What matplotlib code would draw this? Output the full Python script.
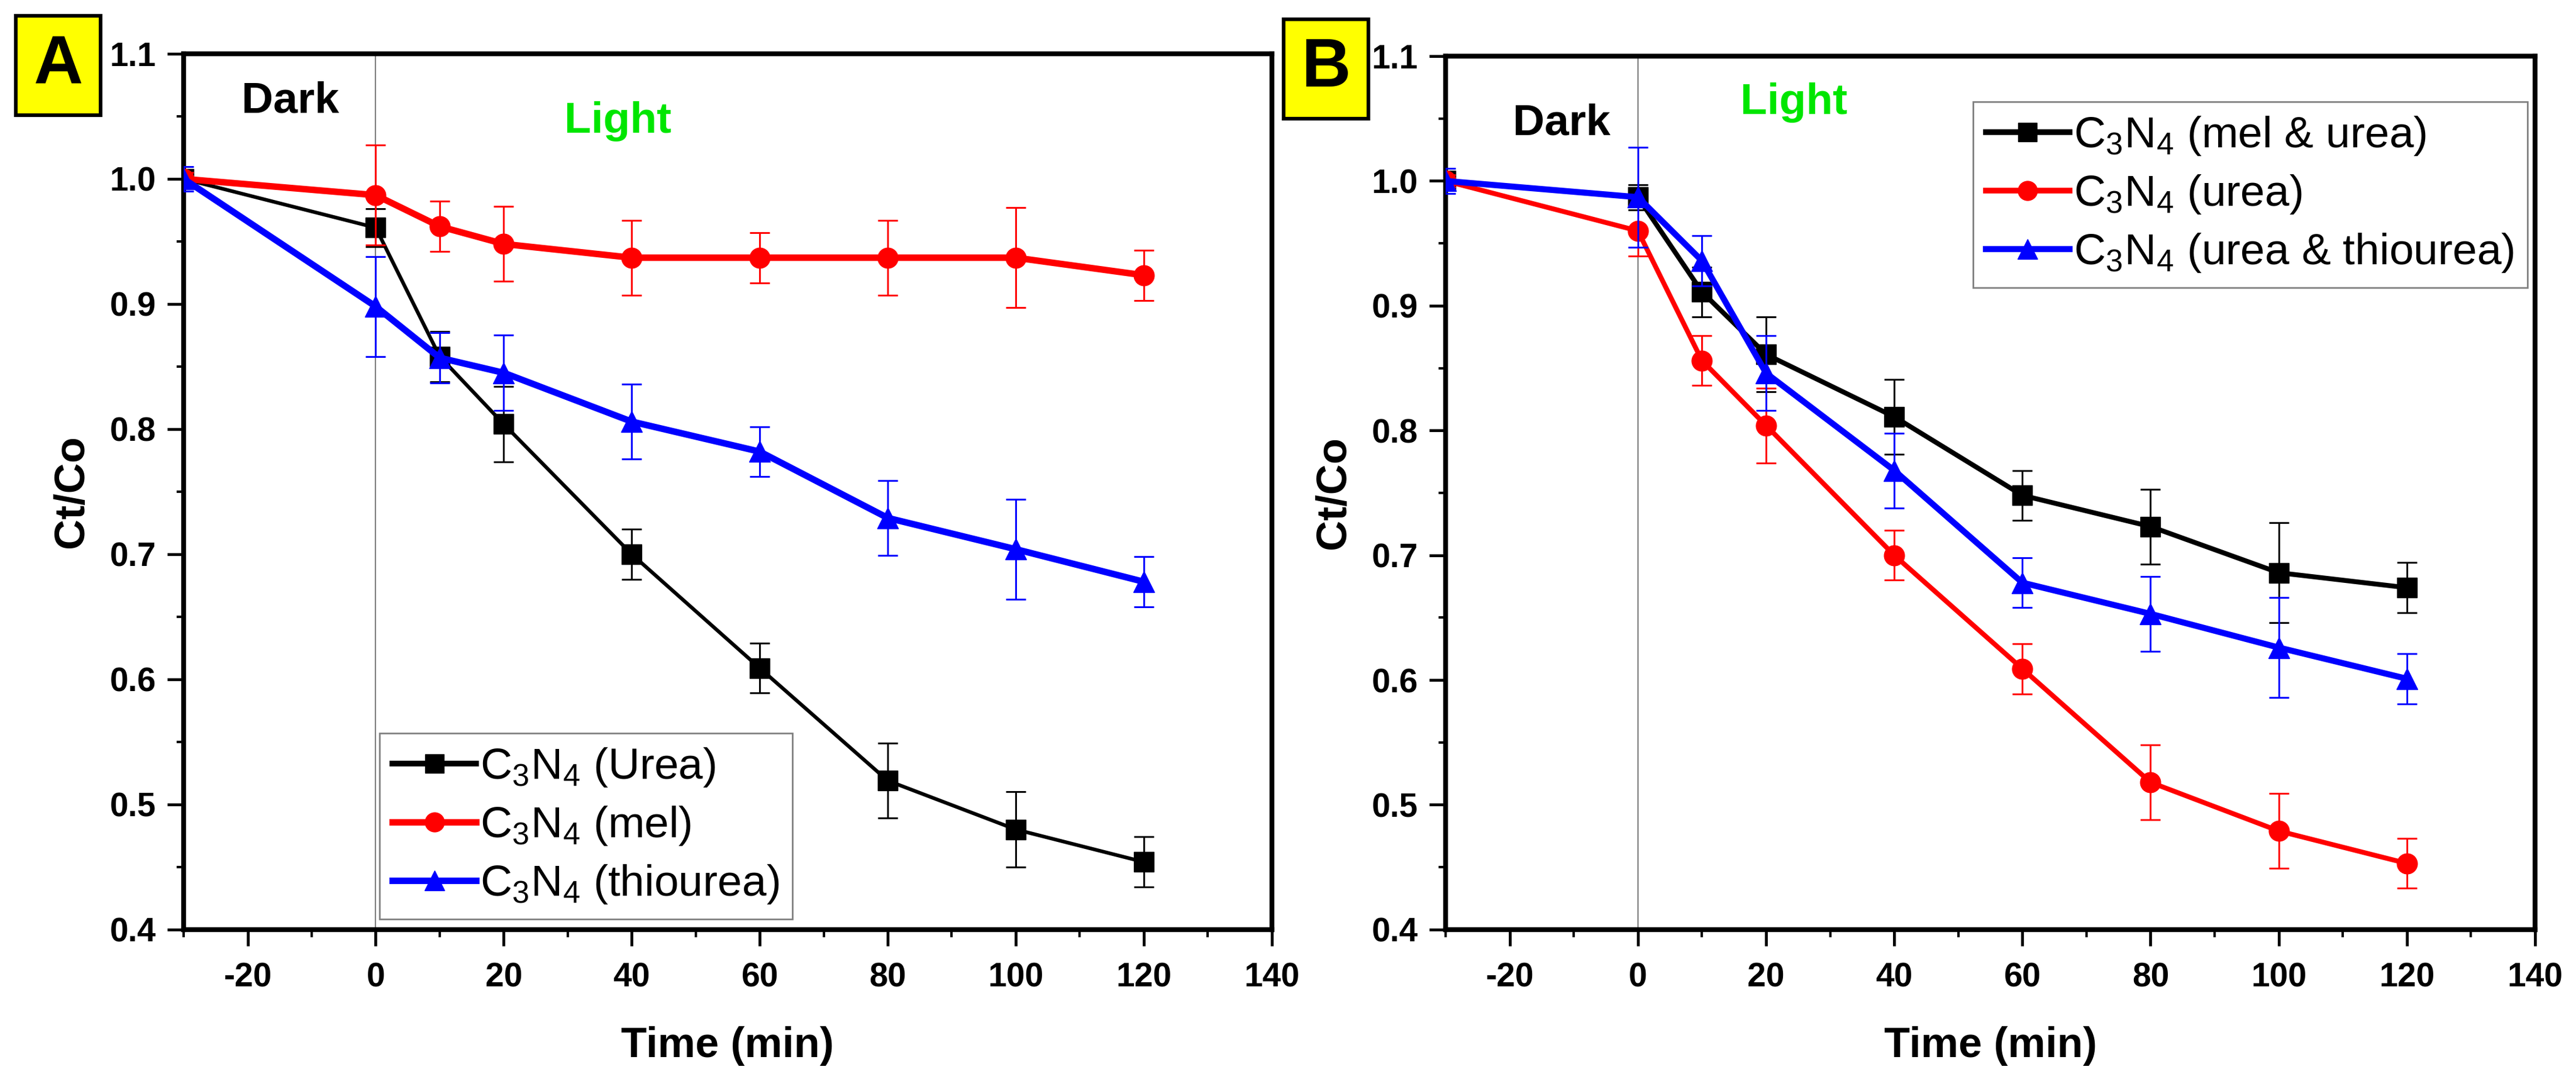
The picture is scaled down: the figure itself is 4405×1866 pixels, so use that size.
import matplotlib
matplotlib.use("Agg")
import matplotlib.pyplot as plt
from matplotlib.patches import Rectangle
from matplotlib.lines import Line2D
from matplotlib.ticker import MultipleLocator

# ---------------- data ----------------
time = [-30, 0, 10, 20, 40, 60, 80, 100, 120]

# Panel A
urea_A = [1.0, 0.961, 0.858, 0.804, 0.700, 0.609, 0.519, 0.480, 0.454]
urea_A_err = [0.005, 0.015, 0.02, 0.03, 0.02, 0.02, 0.03, 0.03, 0.02]
mel_A = [1.0, 0.987, 0.962, 0.948, 0.937, 0.937, 0.937, 0.937, 0.923]
mel_A_err = [0.005, 0.04, 0.02, 0.03, 0.03, 0.02, 0.03, 0.04, 0.02]
thio_A = [1.0, 0.898, 0.857, 0.845, 0.806, 0.782, 0.729, 0.704, 0.678]
thio_A_err = [0.01, 0.04, 0.02, 0.03, 0.03, 0.02, 0.03, 0.04, 0.02]
labels_A = [r"C$_\mathregular{3}$N$_\mathregular{4}$ (Urea)",
            r"C$_\mathregular{3}$N$_\mathregular{4}$ (mel)",
            r"C$_\mathregular{3}$N$_\mathregular{4}$ (thiourea)"]

# Panel B
melurea_B = [1.0, 0.987, 0.911, 0.861, 0.811, 0.748, 0.723, 0.686, 0.674]
melurea_B_err = [0.005, 0.01, 0.02, 0.03, 0.03, 0.02, 0.03, 0.04, 0.02]
urea_B = [1.0, 0.960, 0.856, 0.804, 0.700, 0.609, 0.518, 0.479, 0.453]
urea_B_err = [0.005, 0.02, 0.02, 0.03, 0.02, 0.02, 0.03, 0.03, 0.02]
ureathio_B = [1.0, 0.987, 0.936, 0.846, 0.768, 0.678, 0.653, 0.626, 0.601]
ureathio_B_err = [0.01, 0.04, 0.02, 0.03, 0.03, 0.02, 0.03, 0.04, 0.02]
labels_B = [r"C$_\mathregular{3}$N$_\mathregular{4}$ (mel & urea)",
            r"C$_\mathregular{3}$N$_\mathregular{4}$ (urea)",
            r"C$_\mathregular{3}$N$_\mathregular{4}$ (urea & thiourea)"]

xticks = [-20, 0, 20, 40, 60, 80, 100, 120, 140]
yticks = [0.4, 0.5, 0.6, 0.7, 0.8, 0.9, 1.0, 1.1]

# ---------------- style ----------------
plt.rcParams["font.family"] = ["Liberation Sans", "DejaVu Sans"]
plt.rcParams["mathtext.fontset"] = "custom"
plt.rcParams["mathtext.rm"] = "Liberation Sans"
plt.rcParams["axes.unicode_minus"] = False

fig = plt.figure(figsize=(44.05, 18.66), dpi=100)
axA = fig.add_axes([0.0713, 0.148, 0.4224, 0.8027])
axB = fig.add_axes([0.5612, 0.148, 0.4229, 0.8005])

GREEN = "#00e600"


def style_axes(ax):
    ax.set_xlim(-30, 140)
    ax.set_ylim(0.4, 1.1)
    ax.set_xticks(xticks)
    ax.set_xticklabels([str(v) for v in xticks])
    ax.set_yticks(yticks)
    ax.set_yticklabels([f"{v:.1f}" for v in yticks])
    ax.xaxis.set_minor_locator(MultipleLocator(10))
    ax.yaxis.set_minor_locator(MultipleLocator(0.05))
    for s in ax.spines.values():
        s.set_linewidth(6)
    ax.tick_params(which="major", direction="out", length=20, width=3.5,
                   labelsize=41, pad=14)
    ax.tick_params(which="minor", direction="out", length=9, width=3)
    ax.tick_params(axis="x", which="major", pad=20)
    for lab in ax.get_xticklabels() + ax.get_yticklabels():
        lab.set_fontweight("bold")
    ax.axvline(0, color="#7f7f7f", lw=1.6, zorder=1)
    ax.set_xlabel("Time (min)", fontsize=52, fontweight="bold", labelpad=40)
    ax.set_ylabel("Ct/Co", fontsize=52, fontweight="bold", labelpad=22)


def series(ax, y, err, color, marker, lw, ms, z):
    ax.errorbar(time, y, yerr=err, color=color, marker=marker, lw=lw,
                markersize=ms, capsize=12, elinewidth=2.2, capthick=2.2,
                ecolor=color, zorder=z)
    return Line2D([], [], color=color, marker=marker, lw=max(lw, 7),
                  markersize=ms * 0.95)


def legend(ax, handles, labels, **kw):
    leg = ax.legend(handles, labels, fontsize=54, frameon=True, fancybox=False,
                    framealpha=1, edgecolor="#808080", handlelength=1.9,
                    handletextpad=0.1, borderpad=0.3, labelspacing=0.36,
                    borderaxespad=0, **kw)
    leg.get_frame().set_linewidth(2)
    return leg


# Panel A
style_axes(axA)
hA = [series(axA, urea_A, urea_A_err, "black", "s", 4.5, 24, 3),
      series(axA, mel_A, mel_A_err, "#ff0000", "o", 8, 25, 4),
      series(axA, thio_A, thio_A_err, "#0000ff", "^", 8, 26, 5)]
axA.text(-21, 1.062, "Dark", fontsize=54, fontweight="bold", color="black",
         va="center", ha="left")
axA.text(29.5, 1.046, "Light", fontsize=54, fontweight="bold", color=GREEN,
         va="center", ha="left")
legend(axA, hA, labels_A, loc="lower left", bbox_to_anchor=(0.18, 0.012))

# Panel B
style_axes(axB)
hB = [series(axB, melurea_B, melurea_B_err, "black", "s", 6, 24, 3),
      series(axB, urea_B, urea_B_err, "#ff0000", "o", 6, 25, 4),
      series(axB, ureathio_B, ureathio_B_err, "#0000ff", "^", 7.5, 26, 5)]
axB.text(-19.5, 1.046, "Dark", fontsize=54, fontweight="bold", color="black",
         va="center", ha="left")
axB.text(16, 1.063, "Light", fontsize=54, fontweight="bold", color=GREEN,
         va="center", ha="left")
legend(axB, hB, labels_B, loc="upper right", bbox_to_anchor=(0.993, 0.948))

# Panel letters
W, H = 4405.0, 1866.0
for (x0, y0, letter) in [(27, 27, "A"), (2195, 33, "B")]:
    w, h = 145, 170
    fig.patches.append(Rectangle((x0 / W, 1 - (y0 + h) / H), w / W, h / H,
                                 transform=fig.transFigure, facecolor="#ffff00",
                                 edgecolor="black", lw=4.5, zorder=10))
    fig.text((x0 + w / 2) / W, 1 - (y0 + h / 2) / H, letter, fontsize=84,
             fontweight="bold", ha="center", va="center", zorder=11)

fig.savefig("out.png", dpi=100)
